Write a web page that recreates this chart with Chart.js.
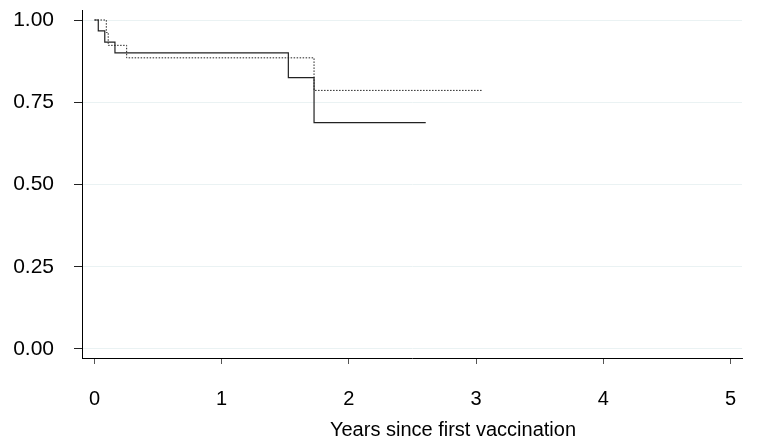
<!DOCTYPE html>
<html>
<head>
<meta charset="utf-8">
<script src="https://cdn.jsdelivr.net/npm/chart.js@4"></script>
<style>
  body { margin: 0; background: #fff; }
  #wrap { width: 763px; height: 439px; }
</style>
</head>
<body>
<div id="wrap"><canvas id="km" width="763" height="439"></canvas></div>
<script>
// ===== data =====
const solidTime = [0, 0.030, 0.081, 0.161, 1.524, 1.726, 2.604];
const solidSurv = [1, 0.967, 0.933, 0.900, 0.825, 0.688, 0.688];
const dottedTime = [0, 0.093, 0.108, 0.253, 1.726, 3.049];
const dottedSurv = [1, 0.962, 0.923, 0.885, 0.786, 0.786];
const xTicks = [0, 1, 2, 3, 4, 5];
const yTicks = [0, 0.25, 0.5, 0.75, 1];
const xTitle = "Years since first vaccination";

const FONT = "'Liberation Sans', Arial, sans-serif";

function pts(xs, ys) {
    return xs.map((x, i) => ({ x: x, y: ys[i] }));
}

// x title sits a bit right of the plot centre in the original
const titlePlugin = {
    id: 'xTitle',
    afterDraw(chart) {
        const ctx = chart.ctx;
        ctx.save();
        ctx.font = "20px " + FONT;
        ctx.fillStyle = "#000";
        ctx.textAlign = "center";
        ctx.textBaseline = "alphabetic";
        ctx.fillText(xTitle, 453, 436);
        ctx.restore();
    }
};

new Chart(document.getElementById("km"), {
    type: 'line',
    data: {
        datasets: [{
            label: 'solid',
            data: pts(solidTime, solidSurv),
            borderColor: '#222',
            borderWidth: 1.2,
            stepped: true,
            pointRadius: 0,
            fill: false
        }, {
            label: 'dotted',
            data: pts(dottedTime, dottedSurv),
            borderColor: '#222',
            borderWidth: 1,
            borderDash: [1.5, 1.5],
            stepped: true,
            pointRadius: 0,
            fill: false
        }]
    },
    options: {
        responsive: false,
        animation: false,
        layout: { autoPadding: false, padding: { top: 10, right: 21, left: 0, bottom: 0 } },
        plugins: { legend: { display: false }, tooltip: { enabled: false } },
        scales: {
            x: {
                type: 'linear',
                min: -0.098,
                max: 5.09,
                afterBuildTicks: s => { s.ticks = xTicks.map(v => ({ value: v })); },
                afterFit: s => {
                    s.height = 81;
                    s.paddingLeft = 0; s.paddingRight = 0;
                },
                border: { display: true, color: '#000', width: 1 },
                grid: { drawOnChartArea: false, drawTicks: true, tickLength: 6, tickColor: '#555' },
                ticks: { font: { family: FONT, size: 20 }, color: '#000', padding: 23, maxRotation: 0 }
            },
            y: {
                type: 'linear',
                min: -0.0274,
                max: 1.0304,
                afterBuildTicks: s => { s.ticks = yTicks.map(v => ({ value: v })); },
                afterFit: s => {
                    s.width = 82;
                    s.paddingTop = 0; s.paddingBottom = 0;
                },
                border: { display: true, color: '#000', width: 1 },
                grid: { color: '#eaf2f3', tickColor: '#222', tickLength: 8 },
                ticks: {
                    font: { family: FONT, size: 21 }, color: '#000', padding: 20,
                    callback: v => v.toFixed(2)
                }
            }
        }
    },
    plugins: [titlePlugin]
});
</script>
</body>
</html>
